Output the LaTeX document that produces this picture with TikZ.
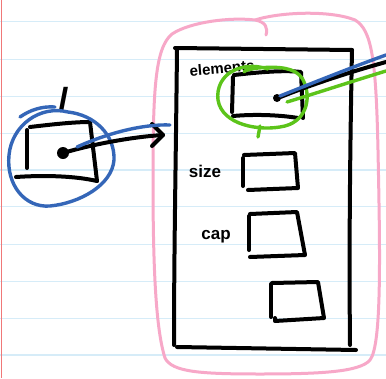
\documentclass[tikz,border=0pt]{standalone}
\usepackage{fontspec}
\setsansfont{Liberation Sans}
\definecolor{paperline}{RGB}{214,236,248}
\definecolor{margin}{RGB}{240,120,120}
\definecolor{pinkblob}{RGB}{247,168,200}
\definecolor{penblue}{RGB}{52,102,184}
\definecolor{pengreen}{RGB}{92,196,26}
\tikzset{
  pen/.style={line width=4pt, line cap=round, line join=round, black},
  bluepen/.style={line width=3.4pt, line cap=round, line join=round, penblue},
  greenpen/.style={line width=3.4pt, line cap=round, line join=round, pengreen},
  pinkpen/.style={line width=3pt, line cap=round, line join=round, pinkblob},
  hand/.style={font=\sffamily\bfseries\fontsize{17}{17}\selectfont, inner sep=0pt}
}
\begin{document}
\begin{tikzpicture}[x=1pt,y=-1pt]
\useasboundingbox (0,0) rectangle (386,378);
\fill[white] (0,0) rectangle (386,378);
% paper lines
\foreach \yy in {21.7,59.3,96.7,133.3,170,206.7,244.3,281.7,318.3,355}
  \draw[paperline, line width=1.3pt] (0,\yy) -- (386,\yy);
\draw[margin, line width=1.8pt] (1.5,0) -- (1.5,378);
% pink blob
\draw[pinkpen] (266,35) .. controls (268,28) and (266,22) .. (255,20)
  .. controls (230,17) and (190,22) .. (172,34)
  .. controls (155,48) and (153,90) .. (153,180)
  .. controls (153,270) and (156,330) .. (165,358)
  .. controls (172,372) and (200,374) .. (260,374)
  .. controls (320,374) and (360,372) .. (370,360)
  .. controls (382,345) and (380,250) .. (378,150)
  .. controls (376,60) and (372,30) .. (355,20)
  .. controls (330,10) and (280,12) .. (255,20);
% big struct rectangle
\draw[pen] (175,48) -- (352,50);
\draw[pen] (177,48) .. controls (176,150) and (174,250) .. (174,345);
\draw[pen] (352,50) .. controls (350,150) and (349,250) .. (350,345);
\draw[pen] (177,347) -- (356,350);
% labels
\node[hand, rotate=5, font=\sffamily\bfseries\fontsize{15}{15}\selectfont] (lelem) at (222,68) {elements};
\node[hand] (lsize) at (205,171) {size};
\node[hand] (lcap) at (216,237) {cap};
\node[hand, font=\sffamily\bfseries\itshape\fontsize{32}{32}\selectfont] (ll) at (63,99) {l};
% field boxes
\coordinate (elemdot) at (277,98);
\draw[pen] (233,77) -- (232,112);
\draw[pen] (234,75) .. controls (260,72) and (285,70) .. (301,72) -- (303,118);
\draw[pen] (233,116) .. controls (255,114) and (280,115) .. (298,118);
\fill (elemdot) circle (4pt);
\node[draw=none, minimum width=56pt, minimum height=38pt] (sizebox) at (270,171) {};
\draw[pen] (243,158) -- (243,186);
\draw[pen] (244,155) -- (295,153) -- (298,188) -- (248,190);
\node[draw=none, minimum width=56pt, minimum height=44pt] (capbox) at (276,234) {};
\draw[pen] (249,216) -- (249,250);
\draw[pen] (250,214) -- (297,212) -- (305,255) -- (250,257);
\node[draw=none, minimum width=55pt, minimum height=40pt] (extbox) at (297,302) {};
\draw[pen] (271,284) -- (271,317);
\draw[pen] (272,283) -- (318,282) -- (324,318) -- (275,321) -- (275,318);
% green circle around elements box
\draw[greenpen] (268,69) .. controls (240,60) and (215,75) .. (218,100)
  .. controls (222,125) and (260,132) .. (285,126)
  .. controls (308,120) and (312,95) .. (302,78)
  .. controls (295,68) and (280,66) .. (258,68)
  .. controls (250,69) and (245,70) .. (244,72);
\draw[greenpen] (260,126) -- (258,137);
% pointers from elements
\draw[greenpen] (287,102) .. controls (320,92) and (350,82) .. (386,71);
\draw[pen] (278,98) .. controls (310,85) and (350,72) .. (386,62);
\draw[bluepen] (280,96) .. controls (315,82) and (350,68) .. (386,55);
% left variable l
\coordinate (ldot) at (63,153);
\draw[pen] (27,130) -- (27,168);
\draw[pen] (30,127) .. controls (55,124) and (75,122) .. (90,122) -- (97,181);
\draw[pen] (16,177) .. controls (45,175) and (75,176) .. (97,181);
\fill (ldot) circle (6pt);
% blue circle
\draw[bluepen] (68,112) .. controls (40,105) and (12,125) .. (9,155)
  .. controls (6,185) and (25,208) .. (50,206)
  .. controls (80,203) and (112,185) .. (114,160)
  .. controls (115,135) and (95,115) .. (68,112);
\draw[bluepen] (20,117) .. controls (30,110) and (42,106) .. (55,107);
% arrow to struct
\coordinate (tip) at (163,135);
\draw[pen] (ldot) .. controls (90,145) and (130,137) .. (tip);
\draw[pen] (152,124) -- (tip) -- (152,146);
\draw[bluepen] (77,147) .. controls (110,132) and (145,124) .. (170,125);
\end{tikzpicture}
\end{document}
